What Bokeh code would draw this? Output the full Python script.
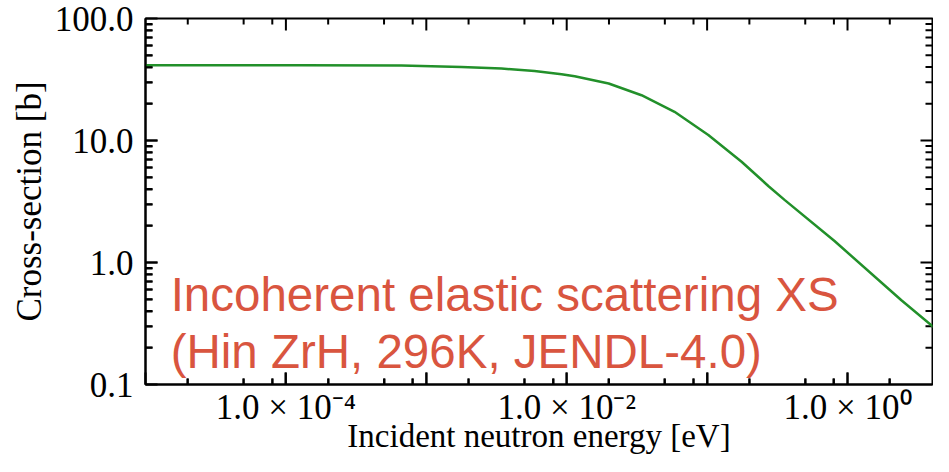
import math
from bokeh.plotting import figure
from bokeh.models import FixedTicker, Label, Range1d
from bokeh.embed import file_html
from bokeh.resources import INLINE

# Data
energy_ev = [1e-5, 1.29e-4, 6.66e-4, 1.78e-3, 3.43e-3, 5.9e-3, 9.19e-3, 1.14e-2,
             1.99e-2, 3.41e-2, 5.86e-2, 1.02e-1, 1.76e-1, 2.74e-1, 3.56e-1,
             8.08e-1, 2.42, 5.0]
xs_barn = [41.4, 41.4, 41.1, 40.1, 38.9, 37.2, 34.9, 33.6,
           29.3, 23.5, 17.2, 11.1, 6.7, 4.22, 3.26,
           1.50, 0.49, 0.245]

x_major = [1e-5, 1e-4, 1e-3, 1e-2, 1e-1, 1e0]
x_tick_labels = {1e-4: "1.0 × 10⁻⁴", 1e-2: "1.0 × 10⁻²", 1e0: "1.0 × 10⁰"}
y_major = [0.1, 1.0, 10.0, 100.0]
y_tick_labels = ["0.1", "1.0", "10.0", "100.0"]

X_MIN, X_MAX = 1e-5, 4.03
Y_MIN, Y_MAX = 0.1, 100.0

x_minor = [m * t for t in x_major for m in (2, 5, 8) if m * t < X_MAX]
y_minor = [m * t for t in y_major[:-1] for m in range(2, 10)]

SERIF = "Liberation Serif"
W, H = 933, 456

p = figure(width=W, height=H, x_axis_type="log", y_axis_type="log",
           x_range=Range1d(X_MIN, X_MAX), y_range=Range1d(Y_MIN, Y_MAX),
           output_backend="svg", toolbar_location=None,
           min_border_left=145, min_border_top=18, min_border_right=1,
           min_border_bottom=71)
p.xgrid.visible = False
p.ygrid.visible = False
p.outline_line_color = "black"
p.outline_line_width = 2
p.background_fill_color = "white"
p.border_fill_color = "white"

x_over = {t: "" for t in x_major}
x_over.update(x_tick_labels)
y_over = {t: lab for t, lab in zip(y_major, y_tick_labels)}


def style_axis(ax, ticker, overrides, minor_len):
    ax.ticker = ticker
    ax.major_label_overrides = overrides
    ax.axis_line_color = "black"
    ax.axis_line_width = 2
    ax.major_tick_in = 12
    ax.major_tick_out = 0
    ax.minor_tick_in = minor_len
    ax.minor_tick_out = 0
    ax.major_tick_line_color = "black"
    ax.minor_tick_line_color = "black"
    ax.major_tick_line_width = 2
    ax.minor_tick_line_width = 2
    ax.major_label_text_font = SERIF
    ax.major_label_text_font_size = "35px"
    ax.major_label_text_color = "black"
    ax.axis_label_text_font = SERIF
    ax.axis_label_text_font_size = "33px"
    ax.axis_label_text_font_style = "normal"
    ax.axis_label_text_color = "black"


xa = p.xaxis[0]
style_axis(xa, FixedTicker(ticks=x_major, minor_ticks=x_minor), x_over, 6)
xa.axis_label = "Incident neutron energy [eV]"
xa.major_label_standoff = 3
xa.axis_label_standoff = -12

ya = p.yaxis[0]
style_axis(ya, FixedTicker(ticks=y_major, minor_ticks=y_minor), y_over, 7)
ya.axis_label = "Cross-section [b]"
ya.axis_label_text_font_size = "35px"
ya.major_label_standoff = 12
ya.axis_label_standoff = 3

# inward ticks on all four sides of the frame
TICK = dict(line_color="black", line_width=2, length_units="screen")
MAJ, YMIN_LEN, XMIN_LEN = 12, 7, 6
xmaj = [t for t in x_major if X_MIN < t < X_MAX]
for ys, ang in ((Y_MIN, math.pi / 2), (Y_MAX, -math.pi / 2)):
    p.ray(x=xmaj, y=[ys] * len(xmaj), length=MAJ, angle=ang, **TICK)
    p.ray(x=x_minor, y=[ys] * len(x_minor), length=XMIN_LEN, angle=ang, **TICK)
ymaj = [t for t in y_major if Y_MIN < t < Y_MAX]
for xs, ang in ((X_MIN, 0.0), (X_MAX, math.pi)):
    p.ray(x=[xs] * len(ymaj), y=ymaj, length=MAJ, angle=ang, **TICK)
    p.ray(x=[xs] * len(y_minor), y=y_minor, length=YMIN_LEN, angle=ang, **TICK)

p.line(energy_ev, xs_barn, line_color="#22902a", line_width=2.5)

RED = "#d9553f"
p.add_layout(Label(x=1.51e-5, y=0.544, text="Incoherent elastic scattering XS",
                   text_font="Liberation Sans", text_font_size="47.5px",
                   text_color=RED, text_baseline="alphabetic"))
p.add_layout(Label(x=1.51e-5, y=0.186, text="(Hin ZrH, 296K, JENDL-4.0)",
                   text_font="Liberation Sans", text_font_size="47.5px",
                   text_color=RED, text_baseline="alphabetic"))

open("out.html", "w").write(file_html(p, INLINE))
